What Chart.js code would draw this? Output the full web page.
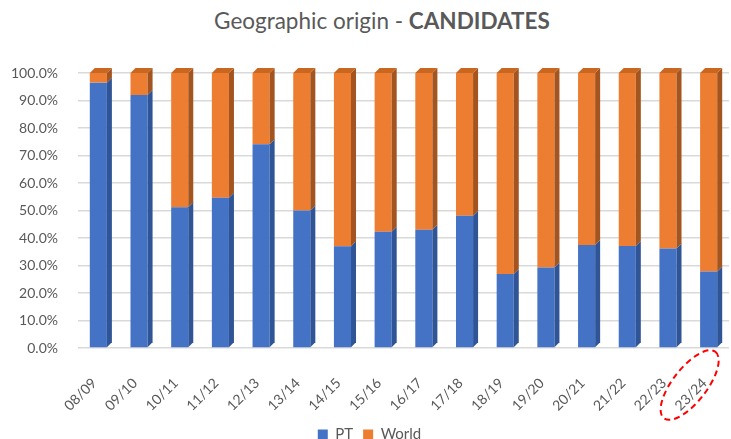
<!DOCTYPE html>
<html>
<head>
<meta charset="utf-8">
<script src="https://cdn.jsdelivr.net/npm/chart.js@4/dist/chart.umd.min.js"></script>
<style>
  html, body { margin: 0; padding: 0; background: #fff; }
  #wrap { position: relative; width: 731px; height: 439px; }
  #titel {
    position: absolute; left: 0; top: 7px; width: 764px; text-align: center;
    font-family: Lato, "Open Sans", sans-serif; font-size: 22.5px; color: #595959;
  }
  #titel b { font-weight: bold; }
  canvas { position: absolute; left: 0; top: 0; }
</style>
</head>
<body>
<div id="wrap">
  <div id="titel">Geographic origin - <b>CANDIDATES</b></div>
  <canvas id="myChart" width="731" height="439"></canvas>
</div>
<script>
// Daten (Anteil in %)
const jahre = ['08/09', '09/10', '10/11', '11/12', '12/13', '13/14', '14/15', '15/16',
               '16/17', '17/18', '18/19', '19/20', '20/21', '21/22', '22/23', '23/24'];
const pt = [96.5, 92.0, 51.2, 54.6, 74.1, 50.0, 37.0, 42.3,
            43.0, 48.1, 26.9, 29.3, 37.5, 37.1, 36.2, 27.8];
const world = pt.map(v => +(100 - v).toFixed(1)); // Rest auf 100%

const blau = '#4472C4';
const orange = '#ED7D31';
const seiteFarben = ['#2F5597', '#A3541F'];
const deckelFarbe = '#C9661F';

// 3D-Effekt: Seitenflaeche und Deckel an jedem Balken
const tiefe = 5;
const balken3d = {
    id: 'balken3d',
    afterDatasetsDraw(chart) {
        const ctx = chart.ctx;
        ctx.save();
        chart.data.datasets.forEach((ds, di) => {
            const meta = chart.getDatasetMeta(di);
            meta.data.forEach(bar => {
                const p = bar.getProps(['x', 'y', 'base', 'width'], true);
                const r = p.x + p.width / 2;
                const l = p.x - p.width / 2;
                // Seite
                ctx.fillStyle = seiteFarben[di];
                ctx.beginPath();
                ctx.moveTo(r, p.y);
                ctx.lineTo(r + tiefe, p.y - tiefe);
                ctx.lineTo(r + tiefe, p.base - tiefe);
                ctx.lineTo(r, p.base);
                ctx.closePath();
                ctx.fill();
                // Deckel nur beim obersten Datensatz
                if (di === chart.data.datasets.length - 1) {
                    ctx.fillStyle = deckelFarbe;
                    ctx.beginPath();
                    ctx.moveTo(l, p.y);
                    ctx.lineTo(l + tiefe, p.y - tiefe);
                    ctx.lineTo(r + tiefe, p.y - tiefe);
                    ctx.lineTo(r, p.y);
                    ctx.closePath();
                    ctx.fill();
                }
            });
        });
        ctx.restore();
    }
};

// Rote gestrichelte Ellipse um das letzte Jahr
const markierung = {
    id: 'markierung',
    afterDraw(chart) {
        const x = chart.scales.x.getPixelForValue(jahre.length - 1);
        const y = chart.chartArea.bottom;
        const ctx = chart.ctx;
        ctx.save();
        ctx.strokeStyle = '#FF0000';
        ctx.lineWidth = 2;
        ctx.setLineDash([6, 4]);
        ctx.beginPath();
        ctx.ellipse(x - 19, y + 37, 42, 17, -Math.PI * 0.29, 0, Math.PI * 2);
        ctx.stroke();
        ctx.restore();
    }
};

const config = {
    type: 'bar',
    data: {
        labels: jahre,
        datasets: [{
            label: 'PT',
            data: pt,
            backgroundColor: blau,
            barPercentage: 0.42,
            categoryPercentage: 1.0
        }, {
            label: 'World',
            data: world,
            backgroundColor: orange,
            barPercentage: 0.42,
            categoryPercentage: 1.0
        }]
    },
    options: {
        responsive: false,
        animation: false,
        layout: { padding: { left: 10, right: 2, top: 73, bottom: -13 } },
        plugins: {
            title: { display: false },
            tooltip: { enabled: false },
            legend: {
                position: 'bottom',
                labels: {
                    boxWidth: 10, boxHeight: 10, padding: 10,
                    color: '#595959',
                    font: { family: 'Lato', size: 15 }
                }
            }
        },
        scales: {
            x: {
                stacked: true,
                grid: { display: false, drawTicks: true, tickLength: 24 },
                border: { display: false },
                ticks: {
                    minRotation: 45, maxRotation: 45,
                    padding: 3,
                    labelOffset: -4,
                    color: '#595959',
                    font: { family: 'Lato', size: 14 }
                },
                afterFit(scale) { scale.height = 69; }
            },
            y: {
                stacked: true,
                min: 0, max: 100,
                grid: { color: '#D9D9D9', lineWidth: 1.5, drawTicks: false },
                border: { display: false },
                ticks: {
                    stepSize: 10,
                    padding: 20,
                    color: '#595959',
                    font: { family: 'Lato', size: 14 },
                    callback: v => v.toFixed(1) + '%'
                },
                afterFit(scale) { scale.width = 68; }
            }
        }
    },
    plugins: [balken3d, markierung]
};

const ctx = document.getElementById('myChart').getContext('2d');
const myChart = new Chart(ctx, config);
</script>
</body>
</html>
